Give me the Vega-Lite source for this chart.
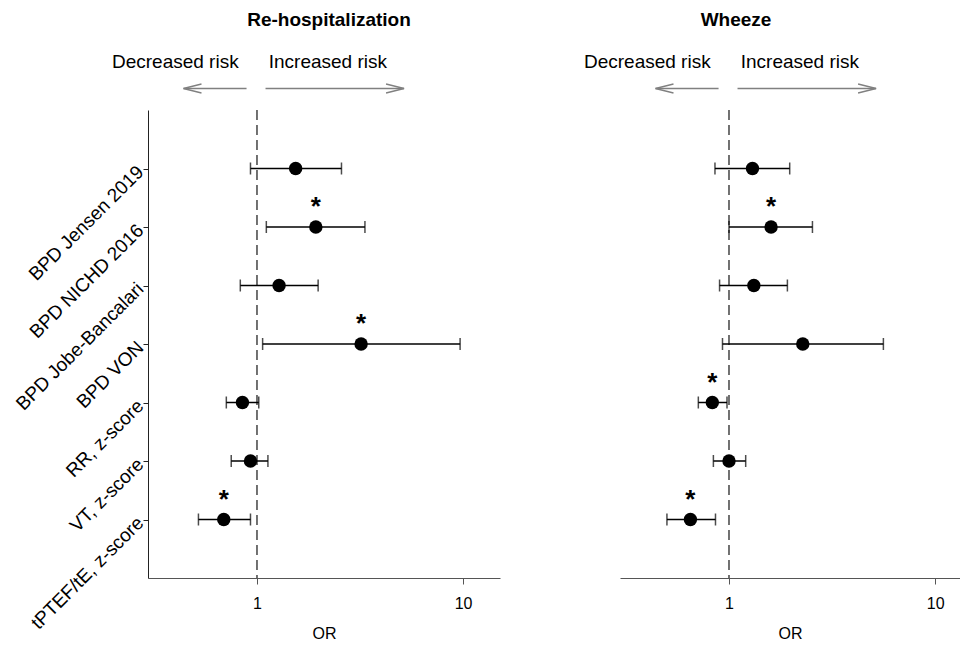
{
  "$schema": "https://vega.github.io/schema/vega-lite/v6.json",
  "padding": {"left": 12, "top": 10, "right": 0, "bottom": 0},
  "config": {
    "view": {"stroke": null},
    "font": "Liberation Sans, Arial, Helvetica, sans-serif",
    "axis": {"grid": false}
  },
  "datasets": {
    "rows": [
      {"outcome": "Re-hospitalization", "measure": "BPD Jensen 2019", "or": 1.54, "lo": 0.93, "hi": 2.57, "sig": false},
      {"outcome": "Re-hospitalization", "measure": "BPD NICHD 2016", "or": 1.93, "lo": 1.11, "hi": 3.34, "sig": true},
      {"outcome": "Re-hospitalization", "measure": "BPD Jobe-Bancalari", "or": 1.28, "lo": 0.83, "hi": 1.98, "sig": false},
      {"outcome": "Re-hospitalization", "measure": "BPD VON", "or": 3.2, "lo": 1.065, "hi": 9.67, "sig": true},
      {"outcome": "Re-hospitalization", "measure": "RR, z-score", "or": 0.85, "lo": 0.71, "hi": 1.02, "sig": false},
      {"outcome": "Re-hospitalization", "measure": "VT, z-score", "or": 0.93, "lo": 0.75, "hi": 1.13, "sig": false},
      {"outcome": "Re-hospitalization", "measure": "tPTEF/tE, z-score", "or": 0.69, "lo": 0.52, "hi": 0.93, "sig": true},
      {"outcome": "Wheeze", "measure": "BPD Jensen 2019", "or": 1.3, "lo": 0.855, "hi": 1.97, "sig": false},
      {"outcome": "Wheeze", "measure": "BPD NICHD 2016", "or": 1.6, "lo": 1.0, "hi": 2.54, "sig": true},
      {"outcome": "Wheeze", "measure": "BPD Jobe-Bancalari", "or": 1.32, "lo": 0.9, "hi": 1.92, "sig": false},
      {"outcome": "Wheeze", "measure": "BPD VON", "or": 2.28, "lo": 0.93, "hi": 5.61, "sig": false},
      {"outcome": "Wheeze", "measure": "RR, z-score", "or": 0.83, "lo": 0.71, "hi": 0.978, "sig": true},
      {"outcome": "Wheeze", "measure": "VT, z-score", "or": 1.0, "lo": 0.84, "hi": 1.205, "sig": false},
      {"outcome": "Wheeze", "measure": "tPTEF/tE, z-score", "or": 0.65, "lo": 0.5, "hi": 0.86, "sig": true}
    ]
  },
  "spacing": 83,
  "hconcat": [
    {
      "title": {"text": "Re-hospitalization", "frame": "group", "anchor": "middle", "dx": 5, "offset": 4, "fontSize": 19, "fontWeight": "bold", "color": "#000", "baseline": "bottom"},
      "width": 352,
      "height": 468,
      "data": {"name": "rows"},
      "transform": [{"filter": "datum.outcome === 'Re-hospitalization'"}],
      "layer": [
        {
          "data": {"values": [{}]},
          "mark": {"type": "rule", "strokeDash": [10, 5], "color": "#444", "strokeWidth": 1.5},
          "encoding": {"x": {"datum": 1, "type": "quantitative"}}
        },
        {
          "mark": {"type": "rule", "color": "#000", "strokeWidth": 1.5},
          "encoding": {
            "x": {"field": "lo", "type": "quantitative", "scale": {"type": "log", "domain": [0.296, 15.1], "nice": false},
                  "axis": {"title": "OR", "values": [1, 10], "format": "d", "labelFontSize": 16, "titleFontSize": 16, "titleFontWeight": "normal", "labelColor": "#000", "titleColor": "#000", "domainColor": "#555", "tickColor": "#555", "tickSize": 6, "labelPadding": 11, "titlePadding": 14, "labelFlush": false}},
            "x2": {"field": "hi"},
            "y": {"field": "measure", "type": "nominal",
                  "scale": {"type": "point", "padding": 1, "domain": ["BPD Jensen 2019", "BPD NICHD 2016", "BPD Jobe-Bancalari", "BPD VON", "RR, z-score", "VT, z-score", "tPTEF/tE, z-score"]},
                  "axis": {"title": null, "labelAngle": -45, "labelAlign": "right", "labelBaseline": "middle", "labelFontSize": 19, "labelColor": "#000", "domainColor": "#222", "tickColor": "#222", "tickSize": 5, "labelPadding": 3, "labelOverlap": false, "labelLimit": 300}}
          }
        },
        {
          "mark": {"type": "tick", "color": "#000", "size": 12, "thickness": 1.5},
          "encoding": {"x": {"field": "lo", "type": "quantitative"}, "y": {"field": "measure", "type": "nominal"}}
        },
        {
          "mark": {"type": "tick", "color": "#000", "size": 12, "thickness": 1.5},
          "encoding": {"x": {"field": "hi", "type": "quantitative"}, "y": {"field": "measure", "type": "nominal"}}
        },
        {
          "mark": {"type": "point", "shape": "circle", "filled": true, "size": 180, "color": "#000", "opacity": 1},
          "encoding": {"x": {"field": "or", "type": "quantitative"}, "y": {"field": "measure", "type": "nominal"}}
        },
        {
          "transform": [{"filter": "datum.sig"}],
          "mark": {"type": "text", "text": "*", "fontSize": 26, "fontWeight": "bold", "baseline": "alphabetic", "align": "center", "dy": -12, "color": "#000"},
          "encoding": {"x": {"field": "or", "type": "quantitative"}, "y": {"field": "measure", "type": "nominal"}}
        },
        {
          "data": {"values": [{}]},
          "mark": {"type": "text", "text": "Decreased risk", "align": "right", "baseline": "middle", "fontSize": 19, "dy": -107, "color": "#000"},
          "encoding": {"x": {"datum": 0.815, "type": "quantitative"}, "y": {"datum": "BPD Jensen 2019", "type": "nominal"}}
        },
        {
          "data": {"values": [{}]},
          "mark": {"type": "text", "text": "Increased risk", "align": "left", "baseline": "middle", "fontSize": 19, "dy": -107, "color": "#000"},
          "encoding": {"x": {"datum": 1.14, "type": "quantitative"}, "y": {"datum": "BPD Jensen 2019", "type": "nominal"}}
        },
        {
          "data": {"values": [{}]},
          "mark": {"type": "rule", "color": "#808080", "strokeWidth": 1.3, "yOffset": -80},
          "encoding": {"x": {"datum": 0.44, "type": "quantitative"}, "x2": {"datum": 0.89}, "y": {"datum": "BPD Jensen 2019", "type": "nominal"}}
        },
        {
          "data": {"values": [{}]},
          "mark": {"type": "rule", "color": "#808080", "strokeWidth": 1.3, "yOffset": -80},
          "encoding": {"x": {"datum": 1.1, "type": "quantitative"}, "x2": {"datum": 5.17}, "y": {"datum": "BPD Jensen 2019", "type": "nominal"}}
        },
        {
          "data": {"values": [{}]},
          "mark": {"type": "point", "shape": "M2,-0.5L0,0L2,0.5", "size": 324, "filled": false, "stroke": "#808080", "strokeWidth": 1.3, "opacity": 1, "yOffset": -80},
          "encoding": {"x": {"datum": 0.44, "type": "quantitative"}, "y": {"datum": "BPD Jensen 2019", "type": "nominal"}}
        },
        {
          "data": {"values": [{}]},
          "mark": {"type": "point", "shape": "M-2,-0.5L0,0L-2,0.5", "size": 324, "filled": false, "stroke": "#808080", "strokeWidth": 1.3, "opacity": 1, "yOffset": -80},
          "encoding": {"x": {"datum": 5.17, "type": "quantitative"}, "y": {"datum": "BPD Jensen 2019", "type": "nominal"}}
        }
      ]
    },
    {
      "title": {"text": "Wheeze", "frame": "group", "anchor": "middle", "dx": -54, "offset": 4, "fontSize": 19, "fontWeight": "bold", "color": "#000", "baseline": "bottom"},
      "width": 340,
      "height": 468,
      "data": {"name": "rows"},
      "transform": [{"filter": "datum.outcome === 'Wheeze'"}],
      "layer": [
        {
          "data": {"values": [{}]},
          "mark": {"type": "rule", "strokeDash": [10, 5], "color": "#444", "strokeWidth": 1.5},
          "encoding": {"x": {"datum": 1, "type": "quantitative"}}
        },
        {
          "mark": {"type": "rule", "color": "#000", "strokeWidth": 1.5},
          "encoding": {
            "x": {"field": "lo", "type": "quantitative", "scale": {"type": "log", "domain": [0.296, 13.2], "nice": false},
                  "axis": {"title": "OR", "values": [1, 10], "format": "d", "labelFontSize": 16, "titleFontSize": 16, "titleFontWeight": "normal", "labelColor": "#000", "titleColor": "#000", "domainColor": "#555", "tickColor": "#555", "tickSize": 6, "labelPadding": 11, "titlePadding": 14, "labelFlush": false}},
            "x2": {"field": "hi"},
            "y": {"field": "measure", "type": "nominal",
                  "scale": {"type": "point", "padding": 1, "domain": ["BPD Jensen 2019", "BPD NICHD 2016", "BPD Jobe-Bancalari", "BPD VON", "RR, z-score", "VT, z-score", "tPTEF/tE, z-score"]},
                  "axis": null}
          }
        },
        {
          "mark": {"type": "tick", "color": "#000", "size": 12, "thickness": 1.5},
          "encoding": {"x": {"field": "lo", "type": "quantitative"}, "y": {"field": "measure", "type": "nominal"}}
        },
        {
          "mark": {"type": "tick", "color": "#000", "size": 12, "thickness": 1.5},
          "encoding": {"x": {"field": "hi", "type": "quantitative"}, "y": {"field": "measure", "type": "nominal"}}
        },
        {
          "mark": {"type": "point", "shape": "circle", "filled": true, "size": 180, "color": "#000", "opacity": 1},
          "encoding": {"x": {"field": "or", "type": "quantitative"}, "y": {"field": "measure", "type": "nominal"}}
        },
        {
          "transform": [{"filter": "datum.sig"}],
          "mark": {"type": "text", "text": "*", "fontSize": 26, "fontWeight": "bold", "baseline": "alphabetic", "align": "center", "dy": -12, "color": "#000"},
          "encoding": {"x": {"field": "or", "type": "quantitative"}, "y": {"field": "measure", "type": "nominal"}}
        },
        {
          "data": {"values": [{}]},
          "mark": {"type": "text", "text": "Decreased risk", "align": "right", "baseline": "middle", "fontSize": 19, "dy": -107, "color": "#000"},
          "encoding": {"x": {"datum": 0.815, "type": "quantitative"}, "y": {"datum": "BPD Jensen 2019", "type": "nominal"}}
        },
        {
          "data": {"values": [{}]},
          "mark": {"type": "text", "text": "Increased risk", "align": "left", "baseline": "middle", "fontSize": 19, "dy": -107, "color": "#000"},
          "encoding": {"x": {"datum": 1.14, "type": "quantitative"}, "y": {"datum": "BPD Jensen 2019", "type": "nominal"}}
        },
        {
          "data": {"values": [{}]},
          "mark": {"type": "rule", "color": "#808080", "strokeWidth": 1.3, "yOffset": -80},
          "encoding": {"x": {"datum": 0.44, "type": "quantitative"}, "x2": {"datum": 0.89}, "y": {"datum": "BPD Jensen 2019", "type": "nominal"}}
        },
        {
          "data": {"values": [{}]},
          "mark": {"type": "rule", "color": "#808080", "strokeWidth": 1.3, "yOffset": -80},
          "encoding": {"x": {"datum": 1.1, "type": "quantitative"}, "x2": {"datum": 5.17}, "y": {"datum": "BPD Jensen 2019", "type": "nominal"}}
        },
        {
          "data": {"values": [{}]},
          "mark": {"type": "point", "shape": "M2,-0.5L0,0L2,0.5", "size": 324, "filled": false, "stroke": "#808080", "strokeWidth": 1.3, "opacity": 1, "yOffset": -80},
          "encoding": {"x": {"datum": 0.44, "type": "quantitative"}, "y": {"datum": "BPD Jensen 2019", "type": "nominal"}}
        },
        {
          "data": {"values": [{}]},
          "mark": {"type": "point", "shape": "M-2,-0.5L0,0L-2,0.5", "size": 324, "filled": false, "stroke": "#808080", "strokeWidth": 1.3, "opacity": 1, "yOffset": -80},
          "encoding": {"x": {"datum": 5.17, "type": "quantitative"}, "y": {"datum": "BPD Jensen 2019", "type": "nominal"}}
        }
      ]
    }
  ]
}
